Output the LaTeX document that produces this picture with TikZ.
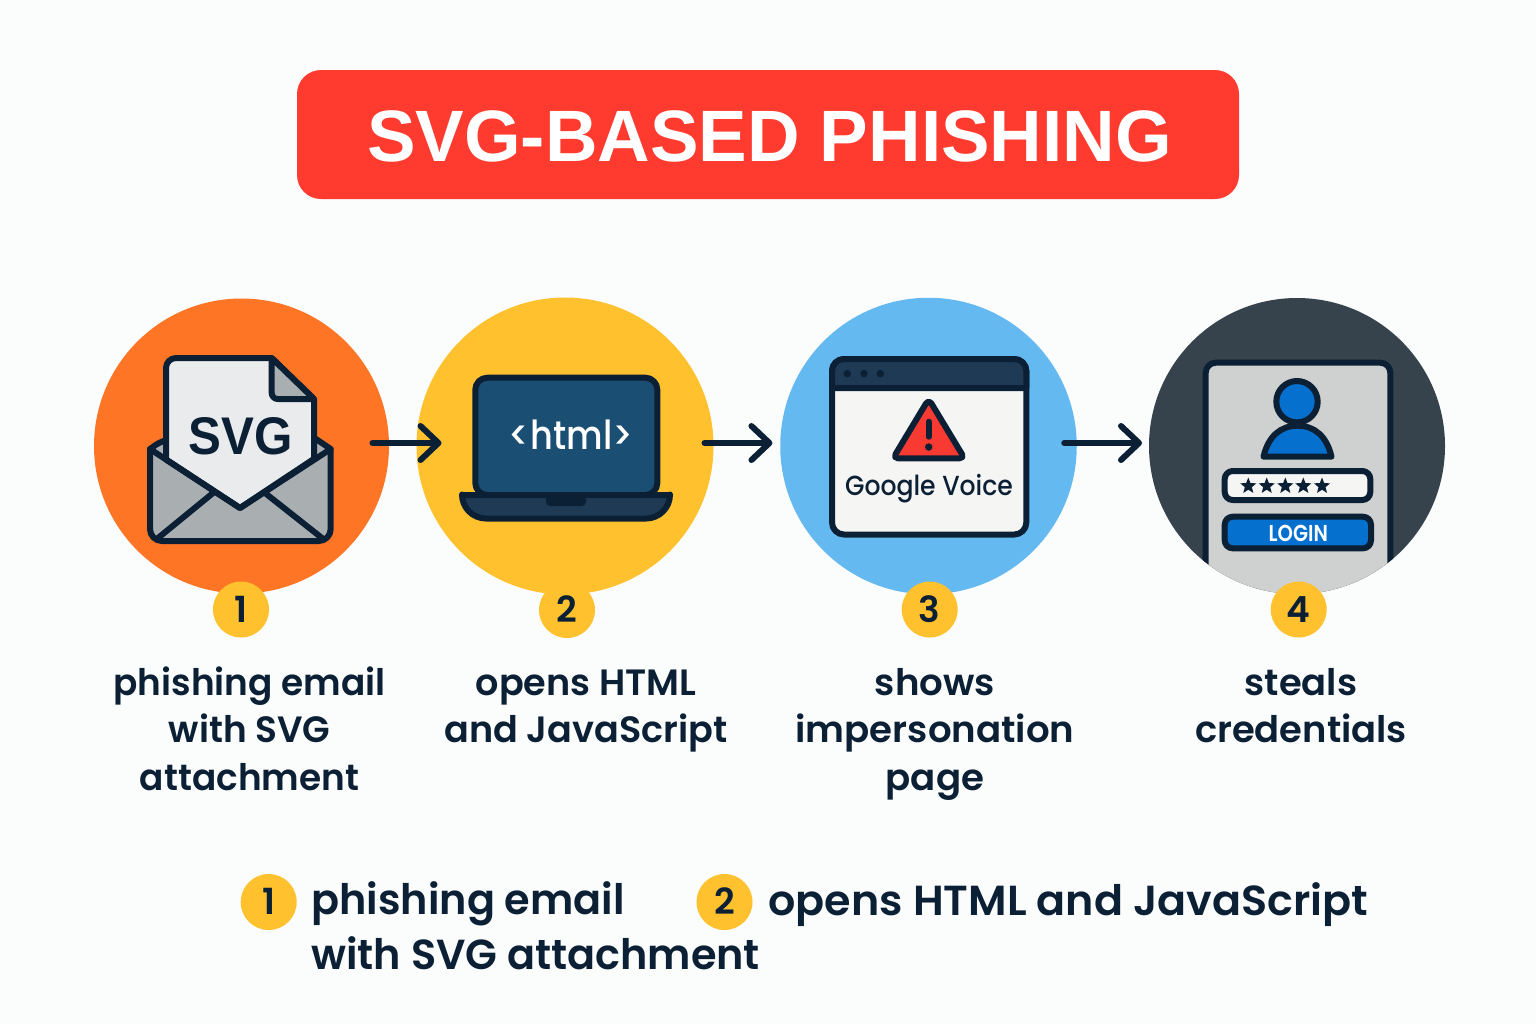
\documentclass[tikz,border=0pt]{standalone}
\usepackage{fontspec}
\usetikzlibrary{arrows.meta,shapes.geometric}
\setmainfont{Poppins}[UprightFont=* Medium,BoldFont=* SemiBold]
\newfontfamily\arialb{Liberation Sans}[UprightFont=* Bold]
\definecolor{ink}{HTML}{0C2035}
\definecolor{bgc}{HTML}{FBFCFC}
\definecolor{titlered}{HTML}{FF3B30}
\definecolor{orangec}{HTML}{FF7526}
\definecolor{yellowc}{HTML}{FFC22E}
\definecolor{bluec}{HTML}{64B9F0}
\definecolor{slatec}{HTML}{36424C}
\definecolor{greyc}{HTML}{A9AFB1}
\definecolor{paperc}{HTML}{E9EBED}
\definecolor{panelc}{HTML}{CFD1D0}
\definecolor{whitec}{HTML}{F5F5F4}
\definecolor{screenc}{HTML}{1A4E72}
\definecolor{barc}{HTML}{1F3A54}
\definecolor{royal}{HTML}{0670CF}
\definecolor{alert}{HTML}{F93A32}
\tikzset{
  bigdisc/.style={circle,minimum size=295*.5pt,inner sep=0pt,outer sep=0pt},
  badge/.style={circle,fill=yellowc,minimum size=56*.5pt,inner sep=0pt,outer sep=0pt,text=ink,text height=12.5pt,text depth=0pt,font=\fontsize{18}{20}\selectfont\bfseries},
  flow/.style={draw=ink,line width=3pt,line cap=round,-{Straight Barb[length=9pt,width=17pt,round]}},
  icon/.style={draw=ink,line width=3pt,line join=round,line cap=round},
  caption/.style={text=ink,align=center,inner sep=0pt,anchor=north,font=\fontsize{18.3}{23.75}\selectfont\bfseries},
  legend/.style={text=ink,align=left,inner sep=0pt,anchor=base west,font=\fontsize{21}{27.25}\selectfont\bfseries},
  pwstar/.style={star,star points=5,star point ratio=2.3,fill=ink,minimum size=17*.5pt,inner sep=0pt}
}
\begin{document}
\begin{tikzpicture}[x=.5pt,y=-.5pt]
\path[use as bounding box,fill=bgc] (0,0) rectangle (1536,1024);

% title
\node[fill=titlered,rounded corners=12pt,minimum width=942*.5pt,minimum height=129*.5pt,inner sep=0pt,text=white,text height=27pt,text depth=0pt,font=\arialb\fontsize{36.4}{40}\selectfont] (title) at (768,134.5) {\hspace*{1.5pt}SVG-BASED PHISHING};

% discs
\node[bigdisc,fill=orangec] (c1) at (241.5,446) {};
\node[bigdisc,fill=yellowc,minimum size=297*.5pt] (c2) at (565,446) {};
\node[bigdisc,fill=bluec,minimum size=296.5*.5pt] (c3) at (928.5,446) {};
\node[bigdisc,fill=slatec,minimum size=296*.5pt] (c4) at (1297,446) {};

% icon 1: envelope and SVG file
\draw[icon,fill=greyc,rounded corners=5pt] (240,439) -- (164,439) [sharp corners] -- (150,449) [rounded corners=6pt] -- (150,541) -- (330.7,541) [sharp corners] -- (330.7,449) -- (316,439) -- cycle;
\draw[icon,fill=paperc] (166,459.5) [rounded corners=5pt] -- (166,358) [sharp corners] -- (271.7,358) -- (314,399) -- (314,458.8) -- (240,508) -- cycle;
\draw[icon,fill=greyc] (271.7,358) [rounded corners=3pt] -- (271.7,399) [sharp corners] -- (314,399) -- cycle;
\draw[icon] (150,449) -- (240,508) -- (330.7,449);
\draw[icon] (158,538) -- (213,493);
\draw[icon] (322,538) -- (265,493);
\node[text=ink,inner sep=0pt,xscale=.93,font=\arialb\fontsize{26.5}{28}\selectfont] (svgtext) at (241,436.7) {SVG};

% icon 2: laptop
\draw[icon,fill=screenc,rounded corners=6pt] (566,495) -- (475.3,495) -- (475.3,377.7) -- (657.3,377.7) -- (657.3,495) -- cycle;
\draw[icon,fill=barc] (566,495) -- (462,495) [rounded corners=12pt] -- (462,518.5) -- (670,518.5) [sharp corners] -- (670,495) -- cycle;
\fill[ink,rounded corners=2pt] (546,496) -- (546,506) -- (586,506) -- (586,496) -- cycle;
\node[text=white,inner sep=0pt,xscale=.88,font=\fontsize{20}{22}\selectfont] (htmltext) at (571,435) {<html>};

% icon 3: browser window
\draw[icon,fill=whitec,rounded corners=6pt] (832,359) rectangle (1026.3,534.5);
\draw[icon,fill=barc] (832,388) [rounded corners=6pt] -- (832,359) -- (1026.3,359) [sharp corners] -- (1026.3,388) -- cycle;
\foreach \dx/\nm in {847.3/d1,864/d2,880.3/d3}{
  \node[circle,fill=ink,minimum size=7.5*.5pt,inner sep=0pt] (\nm) at (\dx,373.7) {};
}
\draw[icon,fill=alert,rounded corners=2.5pt] (928.7,399) -- (893,458.3) -- (964.5,458.3) -- cycle;
\draw[ink,line width=3pt,line cap=round] (928.7,421.7) -- (928.7,436.7);
\node[circle,fill=ink,minimum size=7.5*.5pt,inner sep=0pt] (excl) at (928.7,447) {};
\node[text=ink,inner sep=0pt,xscale=.91,font=\fontsize{13.8}{16}\selectfont] (gvoice) at (929,489) {Google Voice};

% icon 4: login panel, cut by the disc
\begin{scope}
\clip (c4.center) circle (148);
\fill[panelc,rounded corners=5pt] (1205.7,640) -- (1205.7,362.7) -- (1390.3,362.7) -- (1390.3,640) -- cycle;
\draw[icon,rounded corners=5pt] (1205.7,640) -- (1205.7,362.7) -- (1390.3,362.7) -- (1390.3,640);
\end{scope}
\draw[icon,fill=royal] (1263.5,456.7) .. controls (1268,437) and (1280,425.7) .. (1297.5,425.7) .. controls (1315,425.7) and (1327,437) .. (1331.5,456.7) -- cycle;
\draw[icon,fill=royal] (1297,401.7) circle (20.7);
\draw[icon,fill=whitec,rounded corners=4pt] (1224.7,471) rectangle (1370.3,500);
\foreach \sx/\nm in {1248.3/s1,1266.7/s2,1285.3/s3,1303.3/s4,1322/s5}{
  \node[pwstar] (\nm) at (\sx,486) {};
}
\draw[icon,fill=royal,rounded corners=4pt] (1224.7,516.7) rectangle (1371,548.3);
\node[text=white,inner sep=0pt,xscale=.85,font=\fontsize{11.5}{13}\selectfont\bfseries] (login) at (1298.3,533.3) {LOGIN};

% connectors
\draw[flow,shorten <=-8.25pt,shorten >=-12.5pt] ([yshift=1.5pt]c1.east) -- ([yshift=1.5pt]c2.west);
\draw[flow,shorten <=-4.5pt,shorten >=3.9pt] ([yshift=1.5pt]c2.east) -- ([yshift=1.5pt]c3.west);
\draw[flow,shorten <=-6.25pt,shorten >=3.5pt] ([yshift=1.5pt]c3.east) -- ([yshift=1.5pt]c4.west);

% step badges
\node[badge] (b1) at (241,609.5) {1};
\node[badge] (b2) at (567,610) {2};
\node[badge] (b3) at (929.7,609.5) {3};
\node[badge] (b4) at (1298.7,609.5) {4};

% captions
\node[caption,xscale=.98] (t1) at (249.5,661.5) {\strut phishing email\\with SVG\\attachment};
\node[caption] (t2) at (586,661.5) {\strut opens HTML\\and JavaScript};
\node[caption,xscale=1.015] (t3) at (935,661.5) {\strut shows\\impersonation\\page};
\node[caption,xscale=1.008] (t4) at (1301,661.5) {\strut steals\\credentials};

% legend
\node[badge] (k1) at (268.7,902) {1};
\node[badge] (k2) at (724.5,902) {2};
\node[legend,xscale=.985] (l1) at (311,969) {phishing email\\with SVG attachment};
\node[legend,xscale=1.02] (l2) at (768,915) {opens HTML and JavaScript};
\end{tikzpicture}
\end{document}
